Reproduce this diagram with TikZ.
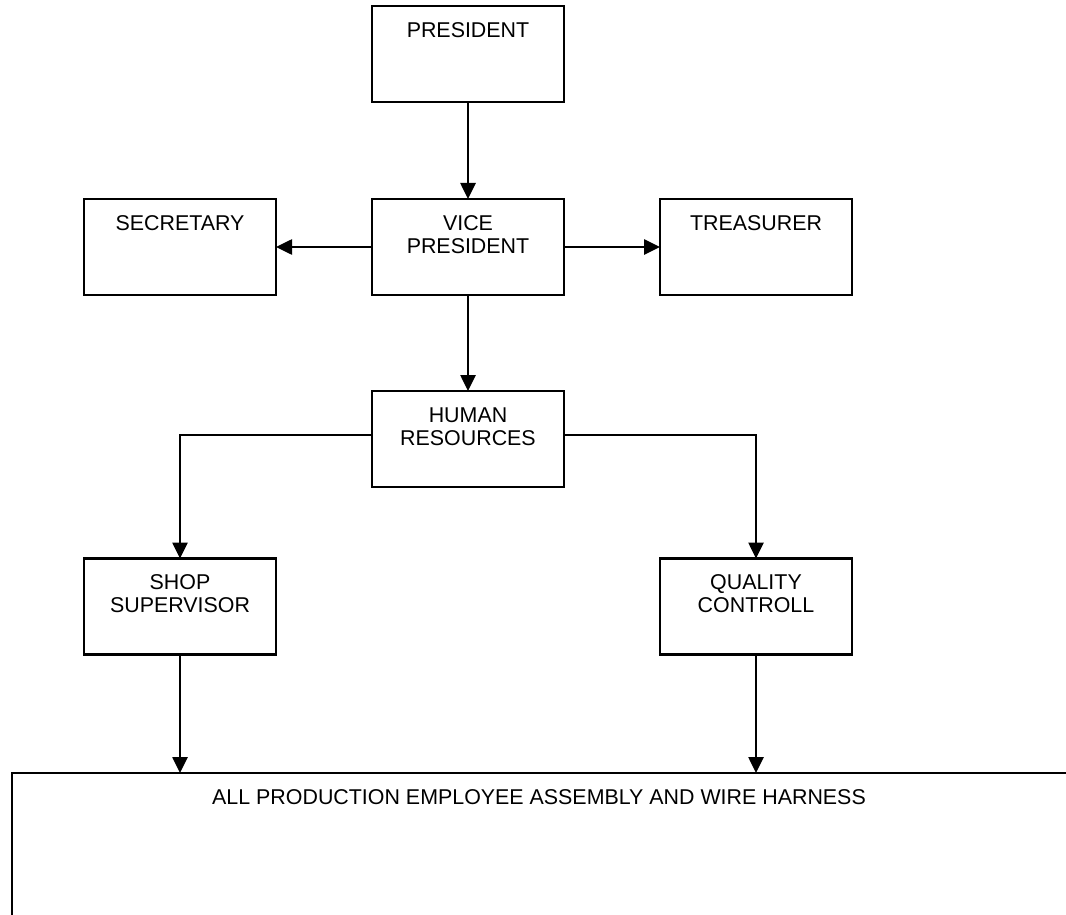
\documentclass[tikz,border=0pt]{standalone}
\usepackage{fontspec}
\setmainfont{Liberation Sans}
\usetikzlibrary{arrows.meta}
\begin{document}
\begin{tikzpicture}[x=1pt,y=-1pt,
  every node/.style={inner sep=0pt, outer sep=0pt},
  box/.style={draw=black, line width=2.6pt, minimum width=192pt, minimum height=96pt},
  lbl/.style={font=\fontsize{21.4}{23}\selectfont, align=center, anchor=north},
  conn/.style={line width=2.6pt, -{Triangle[length=16pt,width=15pt]}},
  line/.style={line width=2.6pt}]
\useasboundingbox (0,0) rectangle (1066,915);
\clip (0,0) rectangle (1066,915);
\fill[white] (0,0) rectangle (1066,915);
\node[box, label={[lbl, yshift=-16.5pt]north:PRESIDENT}] (pres) at (468,54) {};
\node[box, label={[lbl, yshift=-16.5pt]north:VICE\\PRESIDENT}] (vp) at (468,247) {};
\node[box, label={[lbl, yshift=-16.5pt]north:SECRETARY}] (sec) at (180,247) {};
\node[box, label={[lbl, yshift=-16.5pt]north:TREASURER}] (tre) at (756,247) {};
\node[box, label={[lbl, yshift=-16.5pt]north:HUMAN\\RESOURCES}] (hr) at (468,439) {};
\node[box, label={[lbl, yshift=-16.5pt]north:SHOP\\SUPERVISOR}] (shop) at (180,606.5) {};
\node[box, label={[lbl, yshift=-16.5pt]north:QUALITY\\CONTROLL}] (qc) at (756,606.5) {};
\node[draw=black, line width=2.6pt, minimum width=1080pt, minimum height=200pt, anchor=north west] (all) at (12,773) {};
\node[lbl] (alltext) at (539,789.5) {ALL PRODUCTION EMPLOYEE ASSEMBLY AND WIRE HARNESS};
\draw[conn] (pres) -- (vp);
\draw[conn] (vp) -- (sec);
\draw[conn] (vp) -- (tre);
\draw[conn] (vp) -- (hr);
\draw[conn] ([yshift=4pt]hr.west) -| (shop.north);
\draw[conn] ([yshift=4pt]hr.east) -| (qc.north);
\draw[conn] (shop.south) -- (shop.south |- all.north);
\draw[conn] (qc.south) -- (qc.south |- all.north);
\end{tikzpicture}
\end{document}
